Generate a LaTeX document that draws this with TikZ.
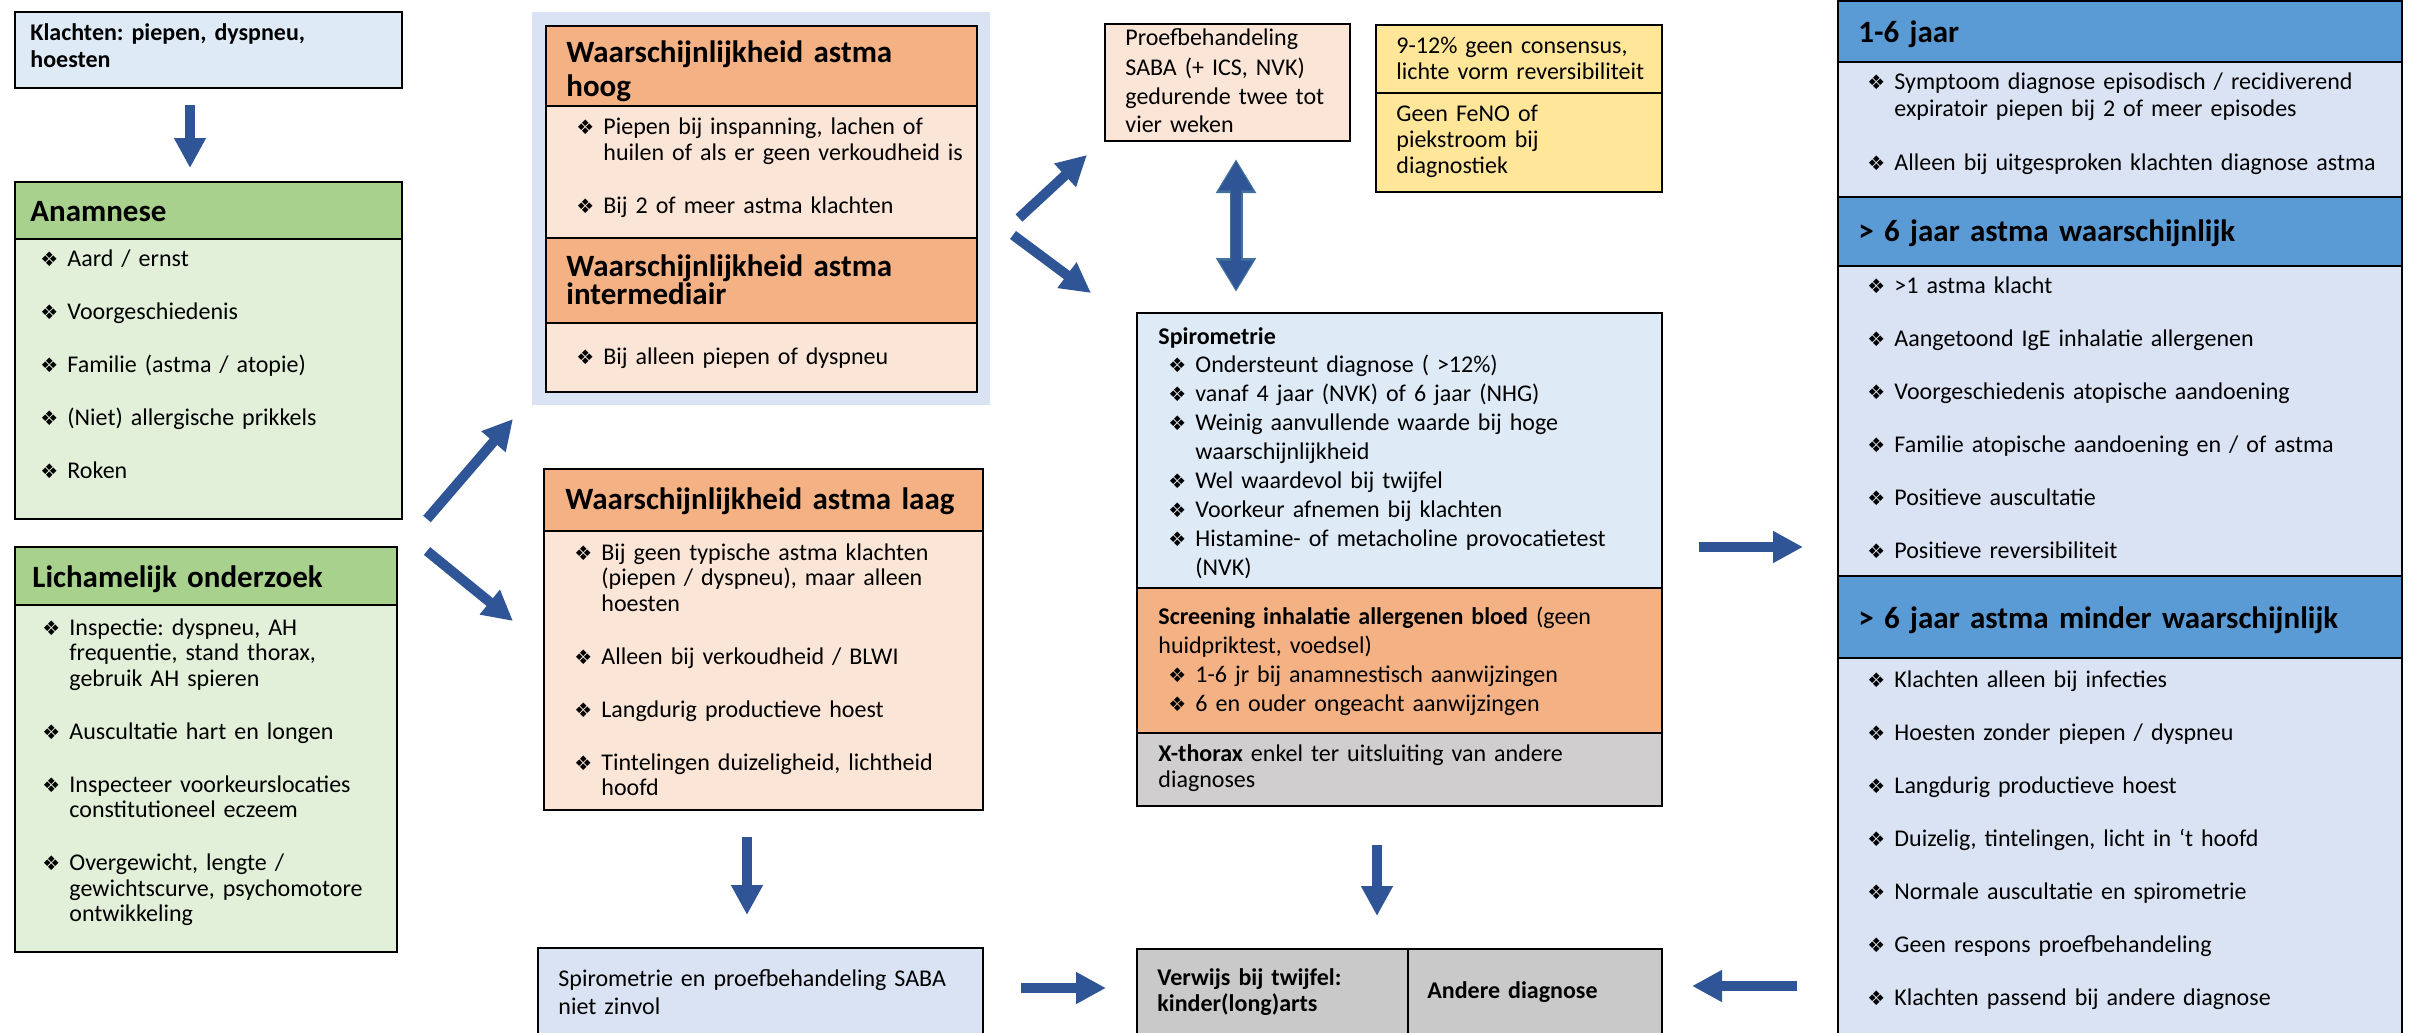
\documentclass[tikz,border=0pt]{standalone}
\usepackage{fontspec}
\setmainfont{Carlito}
\newfontfamily\dingfont{DejaVu Sans}
\usetikzlibrary{arrows.meta,fit}
\frenchspacing

\definecolor{pijl}{HTML}{2F5597}
\definecolor{pijlrand}{HTML}{41719C}
\definecolor{lichtblauw}{HTML}{DEEBF7}
\definecolor{grijsblauw}{HTML}{DAE3F3}
\definecolor{groen}{HTML}{A9D18E}
\definecolor{lichtgroen}{HTML}{E2F0D9}
\definecolor{oranje}{HTML}{F4B183}
\definecolor{lichtoranje}{HTML}{FBE5D6}
\definecolor{geel}{HTML}{FFE699}
\definecolor{grijs}{HTML}{D0CECE}
\definecolor{donkergrijs}{HTML}{C9C9C9}
\definecolor{blauw}{HTML}{5B9BD5}

\newcommand{\bul}{{\dingfont\fontsize{10}{10}\selectfont\char"2756}}
\newcommand{\itm}[1]{\hangindent=13.5pt\hangafter=1\makebox[13.5pt][l]{\bul}#1\par}

\tikzset{
  vak/.style={draw=black, line width=1.3pt, inner sep=0pt},
  tekst/.style={anchor=base west, inner sep=0pt, text width=400pt, font=\fontsize{12}{12.75}\selectfont},
  lijst/.style={tekst, execute at begin node={\setlength{\parskip}{13.75pt}}},
  kop/.style={tekst, font=\fontsize{15.5}{17}\selectfont\bfseries},
  pijlstijl/.style={draw=pijl, line width=5pt, -{Triangle[width=15pt,length=15pt]}},
}

\begin{document}
\begin{tikzpicture}[x=0.5pt, y=-0.5pt]
\useasboundingbox (0,0) rectangle (2415,1033);
\clip (0,0) rectangle (2415,1033);

% linker kolom
\node[vak, fill=lichtblauw, fit={(15,12) (402,88)}] (klacht) {};
\node[tekst, font=\fontsize{12}{13.5}\selectfont\bfseries] (klachttxt) at (30,40) {Klachten: piepen, dyspneu,\\hoesten};

\node[vak, fill=groen, fit={(15,182) (402,239)}] (anamkop) {};
\node[vak, fill=lichtgroen, fit={(15,239) (402,519)}] (anam) {};
\node[kop] (anamtxt) at (30,221) {Anamnese};
\node[lijst] (anamlijst) at (40,266) {\itm{Aard / ernst}\itm{Voorgeschiedenis}\itm{Familie (astma / atopie)}\itm{(Niet) allergische prikkels}\itm{Roken}};

\node[vak, fill=groen, fit={(15,547) (397,605)}] (lichkop) {};
\node[vak, fill=lichtgroen, fit={(15,605) (397,952)}] (lich) {};
\node[kop] (lichtxt) at (32,587) {Lichamelijk onderzoek};
\node[lijst] (lichlijst) at (42,635) {\itm{Inspectie: dyspneu, AH\newline frequentie, stand thorax,\newline gebruik AH spieren}\itm{Auscultatie hart en longen}\itm{Inspecteer voorkeurslocaties\newline constitutioneel eczeem}\itm{Overgewicht, lengte /\newline gewichtscurve, psychomotore\newline ontwikkeling}};

% waarschijnlijkheid
\node[fill=grijsblauw, inner sep=0pt, fit={(532,12) (990,405)}] (hoogbg) {};
\node[vak, fill=oranje, fit={(546,26) (977,106)}] (hoogkop) {};
\node[vak, fill=lichtoranje, fit={(546,106) (977,238)}] (hoog) {};
\node[vak, fill=oranje, fit={(546,238) (977,323)}] (interkop) {};
\node[vak, fill=lichtoranje, fit={(546,323) (977,392)}] (inter) {};
\node[kop] (hoogtxt) at (566,62) {Waarschijnlijkheid astma\\hoog};
\node[lijst, font=\fontsize{12}{13}\selectfont] (hooglijst) at (576,134) {\itm{Piepen bij inspanning, lachen of\newline huilen of als er geen verkoudheid is}\itm{Bij 2 of meer astma klachten}};
\node[kop, font=\fontsize{15.5}{14}\selectfont\bfseries] (intertxt) at (566,276) {Waarschijnlijkheid astma\\intermediair};
\node[lijst] (interlijst) at (576,364) {\itm{Bij alleen piepen of dyspneu}};

\node[vak, fill=oranje, fit={(544,469) (983,531)}] (laagkop) {};
\node[vak, fill=lichtoranje, fit={(544,531) (983,810)}] (laag) {};
\node[kop] (laagtxt) at (565,509) {Waarschijnlijkheid astma laag};
\node[lijst] (laaglijst) at (574,560) {\itm{Bij geen typische astma klachten\newline (piepen / dyspneu), maar alleen\newline hoesten}\itm{Alleen bij verkoudheid / BLWI}\itm{Langdurig productieve hoest}\itm{Tintelingen duizeligheid, lichtheid\newline hoofd}};

\node[vak, fill=grijsblauw, fit={(538,948) (983,1050)}] (saba) {};
\node[tekst, font=\fontsize{12}{14}\selectfont] (sabatxt) at (558,986) {Spirometrie en proefbehandeling SABA\\niet zinvol};

% midden
\node[vak, fill=lichtoranje, fit={(1105,24) (1350,141)}] (proef) {};
\node[tekst, font=\fontsize{12}{14.5}\selectfont] (proeftxt) at (1125,46) {Proefbehandeling\\SABA (+ ICS, NVK)\\gedurende twee tot\\vier weken};

\node[vak, fill=geel, fit={(1376,25) (1662,93)}] (geel1) {};
\node[vak, fill=geel, fit={(1376,93) (1662,192)}] (geel2) {};
\node[tekst, font=\fontsize{12}{13}\selectfont] (geel1txt) at (1396,54) {9-12\% geen consensus,\\lichte vorm reversibiliteit};
\node[tekst, font=\fontsize{12}{13}\selectfont] (geel2txt) at (1396,121) {Geen FeNO of\\piekstroom bij\\diagnostiek};

\node[vak, fill=lichtblauw, fit={(1137,313) (1662,588)}] (spiro) {};
\node[vak, fill=oranje, fit={(1137,588) (1662,733)}] (screen) {};
\node[vak, fill=grijs, fit={(1137,733) (1662,806)}] (xthorax) {};
\node[tekst, font=\fontsize{12}{14.5}\selectfont\bfseries] (spirotxt) at (1158,344) {Spirometrie};
\node[tekst, font=\fontsize{12}{14.5}\selectfont] (spirolijst) at (1168,372) {\itm{Ondersteunt diagnose ( >12\%)}\itm{vanaf 4 jaar (NVK) of 6 jaar (NHG)}\itm{Weinig aanvullende waarde bij hoge\newline waarschijnlijkheid}\itm{Wel waardevol bij twijfel}\itm{Voorkeur afnemen bij klachten}\itm{Histamine- of metacholine provocatietest\newline (NVK)}};
\node[tekst, font=\fontsize{12}{14.5}\selectfont] (screentxt) at (1158,624) {\textbf{Screening inhalatie allergenen bloed} (geen\\huidpriktest, voedsel)};
\node[tekst, font=\fontsize{12}{14.5}\selectfont] (screenlijst) at (1168,682) {\itm{1-6 jr bij anamnestisch aanwijzingen}\itm{6 en ouder ongeacht aanwijzingen}};
\node[tekst, font=\fontsize{12}{13}\selectfont] (xthoraxtxt) at (1158,761) {\textbf{X-thorax} enkel ter uitsluiting van andere\\diagnoses};

\node[vak, fill=donkergrijs, fit={(1137,949) (1408,1050)}] (verwijs) {};
\node[vak, fill=donkergrijs, fit={(1408,949) (1662,1050)}] (andere) {};
\node[tekst, font=\fontsize{12}{13}\selectfont\bfseries] (verwijstxt) at (1157,985) {Verwijs bij twijfel:\\kinder(long)arts};
\node[tekst, font=\fontsize{12}{13}\selectfont\bfseries] (anderetxt) at (1427,998) {Andere diagnose};

% rechter kolom
\node[vak, fill=blauw, fit={(1838,1) (2402,62)}] (jong) {};
\node[vak, fill=grijsblauw, fit={(1838,62) (2402,197)}] (jonglijst) {};
\node[vak, fill=blauw, fit={(1838,197) (2402,266)}] (wel) {};
\node[vak, fill=grijsblauw, fit={(1838,266) (2402,576)}] (wellijst) {};
\node[vak, fill=blauw, fit={(1838,576) (2402,658)}] (minder) {};
\node[vak, fill=grijsblauw, fit={(1838,658) (2402,1050)}] (minderlijst) {};
\node[kop] (jongtxt) at (1858,42) {1-6 jaar};
\node[lijst, font=\fontsize{12}{13.5}\selectfont] (jongitems) at (1867,89) {\itm{Symptoom diagnose episodisch / recidiverend\newline expiratoir piepen bij 2 of meer episodes}\itm{Alleen bij uitgesproken klachten diagnose astma}};
\node[kop] (weltxt) at (1858,241) {> 6 jaar astma waarschijnlijk};
\node[lijst] (welitems) at (1867,293) {\itm{>1 astma klacht}\itm{Aangetoond IgE inhalatie allergenen}\itm{Voorgeschiedenis atopische aandoening}\itm{Familie atopische aandoening en / of astma}\itm{Positieve auscultatie}\itm{Positieve reversibiliteit}};
\node[kop] (mindertxt) at (1858,628) {> 6 jaar astma minder waarschijnlijk};
\node[lijst] (minderitems) at (1867,687) {\itm{Klachten alleen bij infecties}\itm{Hoesten zonder piepen / dyspneu}\itm{Langdurig productieve hoest}\itm{Duizelig, tintelingen, licht in ‘t hoofd}\itm{Normale auscultatie en spirometrie}\itm{Geen respons proefbehandeling}\itm{Klachten passend bij andere diagnose}};

% pijlen
\coordinate (p1a) at (190,105);  \coordinate (p1b) at (190,168);
\coordinate (p2a) at (427,519);  \coordinate (p2b) at (513,419);
\coordinate (p3a) at (427,551);  \coordinate (p3b) at (513,621);
\coordinate (p4a) at (1019,218); \coordinate (p4b) at (1087,155);
\coordinate (p5a) at (1013,235); \coordinate (p5b) at (1091,293);
\coordinate (p6a) at (1236,159); \coordinate (p6b) at (1236,292);
\coordinate (p7a) at (747,837);  \coordinate (p7b) at (747,915);
\coordinate (p8a) at (1377,845); \coordinate (p8b) at (1377,916);
\coordinate (p9a) at (1021,988); \coordinate (p9b) at (1106,988);
\coordinate (p10a) at (1797,986); \coordinate (p10b) at (1692,986);
\coordinate (p11a) at (1699,547); \coordinate (p11b) at (1803,547);

\draw[pijlstijl] (p1a) -- (p1b);
\draw[pijlstijl] (p2a) -- (p2b);
\draw[pijlstijl] (p3a) -- (p3b);
\draw[pijlstijl] (p4a) -- (p4b);
\draw[pijlstijl] (p5a) -- (p5b);
% dubbele pijl met lichte rand
\draw[draw=pijlrand, line width=6.5pt, {Triangle[width=19pt,length=17pt]}-{Triangle[width=19pt,length=17pt]}] (p6a) -- (p6b);
\draw[pijlstijl, shorten <=1.2pt, shorten >=1.2pt, {Triangle[width=16pt,length=14.5pt]}-{Triangle[width=16pt,length=14.5pt]}] (p6a) -- (p6b);
\draw[pijlstijl] (p7a) -- (p7b);
\draw[pijlstijl] (p8a) -- (p8b);
\draw[pijlstijl] (p9a) -- (p9b);
\draw[pijlstijl] (p10a) -- (p10b);
\draw[pijlstijl] (p11a) -- (p11b);

\end{tikzpicture}
\end{document}
